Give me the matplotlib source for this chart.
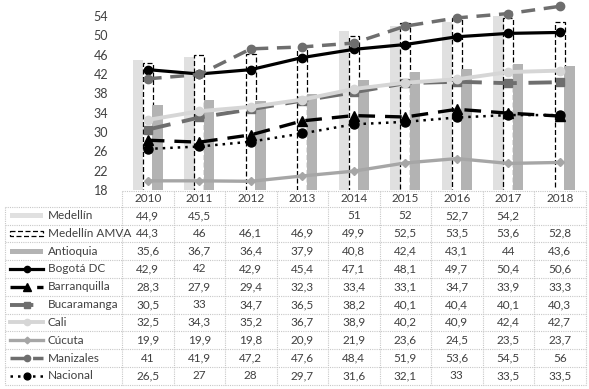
import numpy as np
import matplotlib.pyplot as plt
from matplotlib.transforms import blended_transform_factory
from matplotlib.lines import Line2D
from matplotlib.patches import Rectangle

plt.rcParams['font.family'] = ['Lato', 'DejaVu Sans']

years = ['2010', '2011', '2012', '2013', '2014', '2015', '2016', '2017', '2018']

# bar series
medellin = [44.9, 45.5, np.nan, np.nan, 51, 52, 52.7, 54.2, np.nan]
medellin_amva = [44.3, 46, 46.1, 46.9, 49.9, 52.5, 53.5, 53.6, 52.8]
antioquia = [35.6, 36.7, 36.4, 37.9, 40.8, 42.4, 43.1, 44, 43.6]

# line series
bogota = [42.9, 42, 42.9, 45.4, 47.1, 48.1, 49.7, 50.4, 50.6]
barranquilla = [28.3, 27.9, 29.4, 32.3, 33.4, 33.1, 34.7, 33.9, 33.3]
bucaramanga = [30.5, 33, 34.7, 36.5, 38.2, 40.1, 40.4, 40.1, 40.3]
cali = [32.5, 34.3, 35.2, 36.7, 38.9, 40.2, 40.9, 42.4, 42.7]
cucuta = [19.9, 19.9, 19.8, 20.9, 21.9, 23.6, 24.5, 23.5, 23.7]
manizales = [41, 41.9, 47.2, 47.6, 48.4, 51.9, 53.6, 54.5, 56]
nacional = [26.5, 27, 28, 29.7, 31.6, 32.1, 33, 33.5, 33.5]

yticks = [18, 22, 26, 30, 34, 38, 42, 46, 50, 54]

W, H = 589, 389
fig = plt.figure(figsize=(W / 100, H / 100), dpi=100)
txt = '#404040'

# chart area
ax = fig.add_axes([122 / W, 1 - 190 / H, 463.5 / W, 174 / H])
x = np.arange(len(years))
bw = 0.2

bars = [
    ('Medellín', medellin, dict(color='#e0e0e0', linewidth=0), -0.19),
    ('Medellín AMVA', medellin_amva, dict(facecolor='none', edgecolor='black', linestyle=(0, (4, 2)), linewidth=0.9), 0.0),
    ('Antioquia', antioquia, dict(color='#b3b3b3', linewidth=0), 0.19),
]
for name, vals, st, off in bars:
    ax.bar(x + off, vals, width=bw, zorder=1, **st)

lines = [
    ('Bogotá DC', bogota, dict(color='black', lw=2.3, ls='-', marker='o', ms=6)),
    ('Barranquilla', barranquilla, dict(color='black', lw=2.4, ls=(0, (5, 3)), marker='^', ms=7)),
    ('Bucaramanga', bucaramanga, dict(color='#6e6e6e', lw=2.8, ls=(0, (6, 3)), marker='s', ms=6)),
    ('Cali', cali, dict(color='#d6d6d6', lw=2.8, ls='-', marker='o', ms=6)),
    ('Cúcuta', cucuta, dict(color='#a6a6a6', lw=2.4, ls='-', marker='D', ms=4.5)),
    ('Manizales', manizales, dict(color='#6e6e6e', lw=2.5, ls=(0, (4, 2.5)), marker='o', ms=6)),
    ('Nacional', nacional, dict(color='black', lw=1.8, ls=(0, (1, 2)), marker='o', ms=6.5)),
]
for name, vals, st in lines:
    ax.plot(x, vals, zorder=3, clip_on=False, **st)

ax.set_xlim(-0.5, len(years) - 0.5)
ax.set_ylim(18, 54)
ax.set_yticks(yticks)
ax.set_yticklabels([str(t) for t in yticks], fontsize=9, color=txt)
ax.tick_params(axis='y', length=0, pad=10)
ax.set_xticks([])
for s in ax.spines.values():
    s.set_visible(False)
ax.patch.set_alpha(0)

# data table below, columns follow the chart's x scale
tab = fig.add_axes([0, 0, 1, 1], zorder=-1)
tab.set_xlim(0, W)
tab.set_ylim(H, 0)
tab.axis('off')
tr = blended_transform_factory(ax.transData, tab.transData)

top, head_h, row_h = 191, 15.7, 17.8
names = [b[0] for b in bars] + [l[0] for l in lines]
series = [b[1] for b in bars] + [l[1] for l in lines]
n = len(names)
bottom = top + head_h + n * row_h
grid = dict(color='#c8c8c8', lw=0.8, ls=(0, (1, 1)))

# horizontal lines
tab.plot([122, 585.5], [top, top], **grid)
for i in range(n + 1):
    yy = top + head_h + i * row_h
    tab.plot([5, 585.5], [yy, yy], **grid)
# vertical lines
tab.plot([5, 5], [top + head_h, bottom], **grid)
for i in range(len(years) + 1):
    tab.plot([i - 0.5, i - 0.5], [top, bottom], transform=tr, **grid)

for j, yr in enumerate(years):
    tab.text(j, top + head_h / 2, yr, transform=tr, ha='center', va='center', fontsize=8.5, color=txt)

for i, (nm, vals) in enumerate(zip(names, series)):
    yc = top + head_h + (i + 0.5) * row_h
    tab.text(48, yc, nm, ha='left', va='center', fontsize=8.5, color=txt)
    for j, v in enumerate(vals):
        if np.isnan(v):
            continue
        tab.text(j, yc, f'{v:g}'.replace('.', ','), transform=tr, ha='center',
                 va='center', fontsize=8.5, color=txt)

# legend keys
for i, (nm, vals, st, off) in enumerate(bars):
    yc = top + head_h + (i + 0.5) * row_h
    fc = st.get('facecolor', st.get('color'))
    tab.add_patch(Rectangle((10, yc - 2.5), 33, 5, facecolor=fc if fc != 'none' else 'white',
                            edgecolor=st.get('edgecolor', fc), lw=st.get('linewidth', 0),
                            ls=st.get('linestyle', '-')))
for k, (nm, vals, st) in enumerate(lines):
    yc = top + head_h + (len(bars) + k + 0.5) * row_h
    tab.add_line(Line2D([10, 43], [yc, yc], color=st['color'], lw=st['lw'], ls=st['ls']))
    tab.add_line(Line2D([27], [yc], color=st['color'], marker=st['marker'], ms=st['ms'] * 0.75, ls='none'))

fig.savefig('out.png', dpi=100)
